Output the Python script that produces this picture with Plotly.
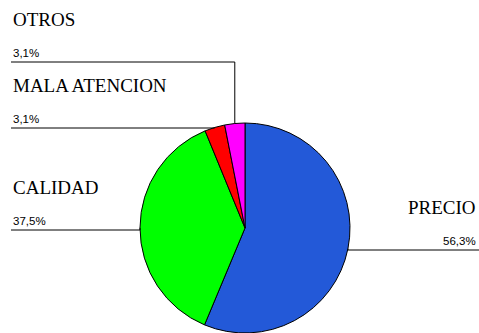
import math
import plotly.graph_objects as go

# Survey data: reasons for choosing / leaving
categories = ["PRECIO", "CALIDAD", "MALA ATENCION", "OTROS"]
percentages = [56.3, 37.5, 3.1, 3.1]
slice_colors = ["#2359D8", "#00FF00", "#FF0000", "#FF00FF"]

W, H = 479, 333

# Pie geometry in pixels
CX, CY, R = 245.0, 228.0, 105.0

def px(x):
    return x / W

def py(y):
    return 1 - y / H

fig = go.Figure(
    go.Pie(
        labels=categories,
        values=percentages,
        marker=dict(colors=slice_colors, line=dict(color="black", width=1)),
        sort=False,
        direction="clockwise",
        rotation=0,
        textinfo="none",
        hoverinfo="label+percent",
        domain=dict(x=[px(CX - R), px(CX + R)], y=[py(CY + R), py(CY - R)]),
        showlegend=False,
    )
)

# Label placement: side and the y of the underline (pixels)
label_layout = {
    "PRECIO": ("right", 250),
    "CALIDAD": ("left", 230),
    "MALA ATENCION": ("left", 128),
    "OTROS": ("left", 62),
}

total = sum(percentages)
cum = 0.0
shapes = []
annotations = []
for name, val in zip(categories, percentages):
    mid = (cum + val / 2) / total * 2 * math.pi
    cum += val
    ax = CX + R * math.sin(mid)
    ay = CY - R * math.cos(mid)
    side, ly = label_layout[name]
    pct = f"{val:.1f}".replace(".", ",") + "%"
    line = dict(color="black", width=1)
    if side == "left":
        x0, x1 = 11, ax
        shapes.append(dict(type="line", xref="paper", yref="paper",
                           x0=px(x0), x1=px(x1), y0=py(ly), y1=py(ly), line=line))
        shapes.append(dict(type="line", xref="paper", yref="paper",
                           x0=px(ax), x1=px(ax), y0=py(ly), y1=py(ay), line=line))
        tx, anchor = 11, "left"
    else:
        x0, x1 = ax, W
        shapes.append(dict(type="line", xref="paper", yref="paper",
                           x0=px(ax), x1=px(ax), y0=py(ay), y1=py(ly), line=line))
        shapes.append(dict(type="line", xref="paper", yref="paper",
                           x0=px(x0), x1=px(x1), y0=py(ly), y1=py(ly), line=line))
        tx, anchor = 478, "right"
    annotations.append(dict(
        x=px(tx), y=py(ly - 1), xref="paper", yref="paper",
        xanchor=anchor, yanchor="bottom", showarrow=False, text=pct,
        font=dict(family="Liberation Sans, Arial", size=11.5, color="black"),
    ))
    annotations.append(dict(
        x=px(tx), y=py(ly - 30), xref="paper", yref="paper",
        xanchor=anchor, yanchor="bottom", showarrow=False, text=name,
        font=dict(family="Liberation Serif, Times New Roman", size=19, color="black"),
    ))

fig.update_layout(
    width=W, height=H,
    margin=dict(l=0, r=0, t=0, b=0),
    paper_bgcolor="white",
    plot_bgcolor="white",
    shapes=shapes,
    annotations=annotations,
)

fig.write_html("out.html")
